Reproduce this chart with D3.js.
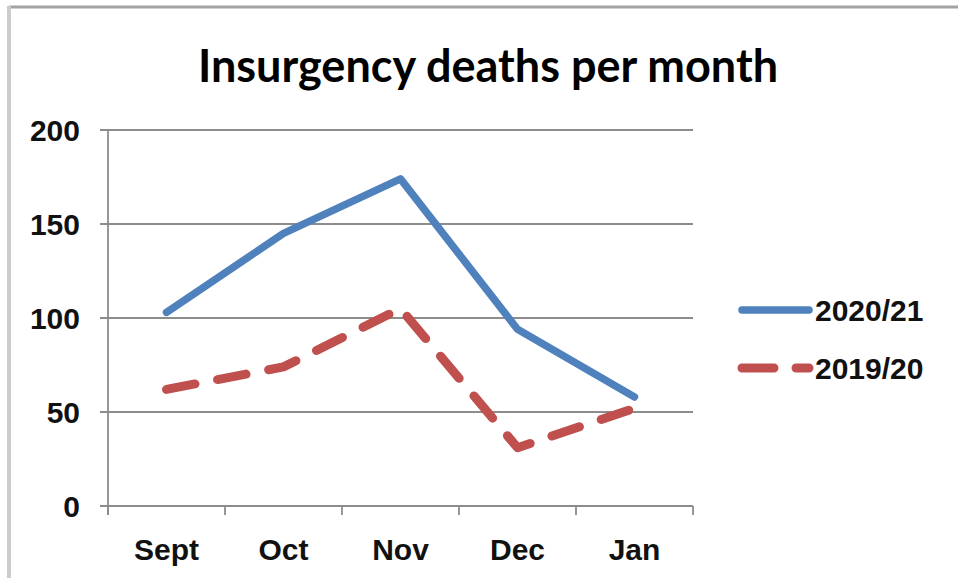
<!DOCTYPE html>
<html>
<head>
<meta charset="utf-8">
<script src="https://cdn.jsdelivr.net/npm/d3@7"></script>
<style>
  body { margin: 0; background: #fff; }
  svg { display: block; }
</style>
</head>
<body>
<svg id="chart" width="958" height="578"></svg>
<script>
var months = ["Sept", "Oct", "Nov", "Dec", "Jan"];
var deaths2021 = [103, 145, 174, 94, 58];
var deaths1920 = [62, 74, 105, 31, 52];
var yTicks = [0, 50, 100, 150, 200];
var seriesNames = ["2020/21", "2019/20"];

var svg = d3.select("#chart");

// frame like the screenshot
svg.append("line").attr("x1", 9).attr("x2", 958).attr("y1", 7).attr("y2", 7)
    .attr("stroke", "#a3a3a3").attr("stroke-width", 3);
svg.append("line").attr("x1", 9).attr("x2", 9).attr("y1", 6).attr("y2", 578)
    .attr("stroke", "#cccccc").attr("stroke-width", 4);

var plotLeft = 108, plotRight = 693, plotTop = 130, plotBottom = 506;

var x = d3.scaleBand().domain(months).range([plotLeft, plotRight]);
var y = d3.scaleLinear().domain([0, 200]).range([plotBottom, plotTop]);

svg.append("text")
    .attr("x", 488).attr("y", 82)
    .attr("text-anchor", "middle")
    .style("font-family", "Lato, 'Open Sans', sans-serif")
    .style("font-weight", "bold")
    .style("font-size", "45px")
    .text("Insurgency deaths per month");

// gridlines
svg.selectAll(".grid")
    .data(yTicks)
    .enter()
    .append("line")
    .attr("class", "grid")
    .attr("x1", plotLeft - 8).attr("x2", plotRight)
    .attr("y1", function(d) { return y(d); })
    .attr("y2", function(d) { return y(d); })
    .attr("stroke", "#8c8c8c").attr("stroke-width", 1.8);

// y axis line
svg.append("line").attr("x1", plotLeft).attr("x2", plotLeft)
    .attr("y1", y(200)).attr("y2", y(0) + 9)
    .attr("stroke", "#8c8c8c").attr("stroke-width", 1.8);

// x ticks at band edges
var edges = months.map(function(m) { return x(m); }).concat([plotRight]);
svg.selectAll(".xtick")
    .data(edges)
    .enter()
    .append("line")
    .attr("x1", function(d) { return d; }).attr("x2", function(d) { return d; })
    .attr("y1", y(0)).attr("y2", y(0) + 9)
    .attr("stroke", "#8c8c8c").attr("stroke-width", 1.8);

var labelFont = "'Liberation Sans', Arial, sans-serif";

svg.selectAll(".ylabel")
    .data(yTicks)
    .enter()
    .append("text")
    .attr("x", 80)
    .attr("y", function(d) { return y(d); })
    .attr("dy", "0.36em")
    .attr("text-anchor", "end")
    .style("font-family", labelFont).style("font-weight", "bold").style("font-size", "30px")
    .attr("fill", "#111")
    .text(function(d) { return d; });

svg.selectAll(".xlabel")
    .data(months)
    .enter()
    .append("text")
    .attr("x", function(d) { return x(d) + x.bandwidth() / 2; })
    .attr("y", 560)
    .attr("text-anchor", "middle")
    .style("font-family", labelFont).style("font-weight", "bold").style("font-size", "30px")
    .attr("fill", "#111")
    .text(function(d) { return d; });

var line = d3.line()
    .x(function(d, i) { return x(months[i]) + x.bandwidth() / 2; })
    .y(function(d) { return y(d); });

svg.append("path")
    .datum(deaths1920)
    .attr("d", line)
    .attr("fill", "none")
    .attr("stroke", "#c0504d")
    .attr("stroke-width", 9)
    .attr("stroke-linecap", "round")
    .attr("stroke-linejoin", "round")
    .attr("stroke-dasharray", "29,23");

svg.append("path")
    .datum(deaths2021)
    .attr("d", line)
    .attr("fill", "none")
    .attr("stroke", "#4f81bd")
    .attr("stroke-width", 7.5)
    .attr("stroke-linecap", "round")
    .attr("stroke-linejoin", "round");

// legend
var legendY = [310, 368];
var legend = svg.selectAll(".legend")
    .data(seriesNames)
    .enter()
    .append("g")
    .attr("transform", function(d, i) { return "translate(0," + legendY[i] + ")"; });

legend.append("line")
    .attr("x1", 742).attr("x2", 809)
    .attr("stroke", function(d, i) { return i == 0 ? "#4f81bd" : "#c0504d"; })
    .attr("stroke-width", function(d, i) { return i == 0 ? 7.5 : 9; })
    .attr("stroke-linecap", "round")
    .attr("stroke-dasharray", function(d, i) { return i == 0 ? null : "32,22"; });

legend.append("text")
    .attr("x", 815)
    .attr("dy", "0.36em")
    .style("font-family", labelFont).style("font-weight", "bold").style("font-size", "30px")
    .attr("fill", "#111")
    .text(function(d) { return d; });
</script>
</body>
</html>
